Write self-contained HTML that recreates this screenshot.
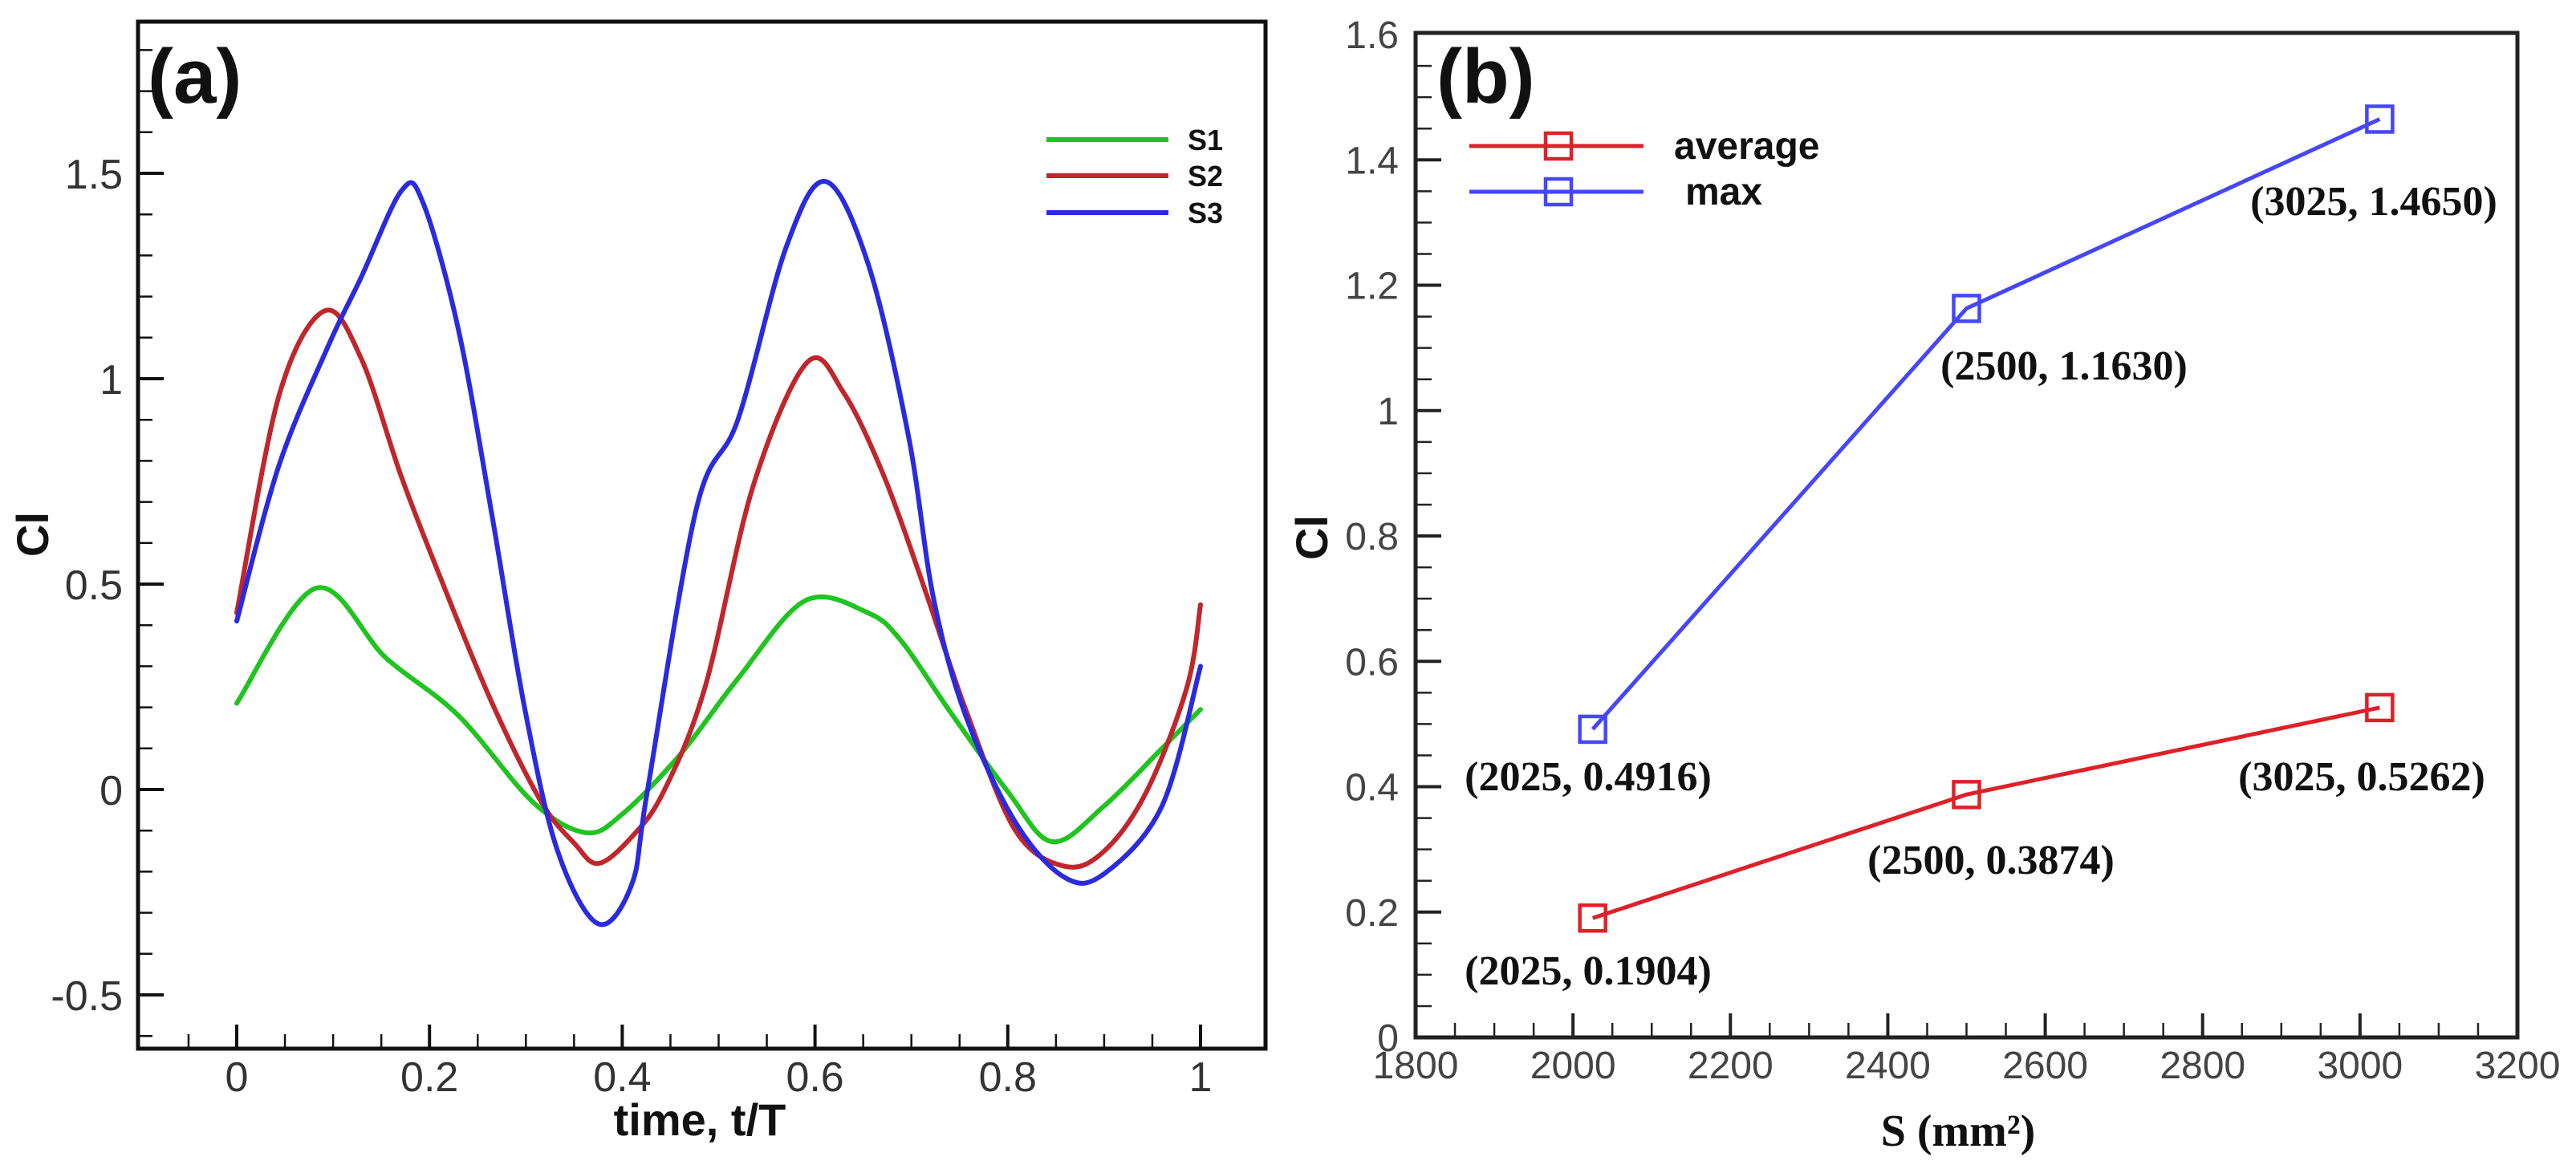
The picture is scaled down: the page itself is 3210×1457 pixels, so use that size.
<!DOCTYPE html>
<html><head><meta charset="utf-8"><style>
html,body{margin:0;padding:0;background:#fff;}
svg{display:block;}
</style></head><body>
<svg id="fig" width="3210" height="1457" viewBox="0 0 3210 1457" xmlns="http://www.w3.org/2000/svg">
<g id="pa"></g>
<g id="pb"></g>
</svg>
<script>
// ---------- Panel (a) data ----------
const s1T = [0,0.082,0.155,0.23,0.307,0.362,0.4,0.46,0.52,0.59,0.655,0.69,0.74,0.8,0.846,0.9,0.96,1];
const s1V = [0.21,0.49,0.32,0.18,-0.03,-0.105,-0.06,0.085,0.27,0.46,0.43,0.36,0.19,-0.005,-0.127,-0.04,0.1,0.195];
const s2T = [0,0.044,0.091,0.129,0.171,0.214,0.265,0.316,0.35,0.375,0.41,0.443,0.486,0.536,0.592,0.63,0.672,0.715,0.757,0.808,0.859,0.9,0.944,0.986,1];
const s2V = [0.43,0.96,1.165,1.05,0.76,0.5,0.21,-0.03,-0.13,-0.18,-0.115,-0.005,0.25,0.74,1.04,0.965,0.76,0.48,0.19,-0.1,-0.187,-0.15,-0.005,0.25,0.45];
const s3T = [0,0.044,0.095,0.129,0.171,0.193,0.23,0.265,0.299,0.333,0.375,0.41,0.426,0.477,0.52,0.57,0.611,0.655,0.697,0.723,0.757,0.808,0.859,0.9,0.96,1];
const s3V = [0.41,0.79,1.08,1.246,1.458,1.43,1.12,0.665,0.195,-0.15,-0.327,-0.23,-0.005,0.685,0.9,1.32,1.48,1.28,0.86,0.465,0.175,-0.08,-0.214,-0.205,-0.04,0.30];
const aXTicks = [0,0.2,0.4,0.6,0.8,1];
const aXTickLabels = ["0","0.2","0.4","0.6","0.8","1"];
const aYTicks = [-0.5,0,0.5,1,1.5];
const aYTickLabels = ["-0.5","0","0.5","1","1.5"];
const aSeriesNames = ["S1","S2","S3"];

// ---------- Panel (b) data ----------
const bX = [2025,2500,3025];
const avgV = [0.1904,0.3874,0.5262];
const maxV = [0.4916,1.1630,1.4650];
const avgLabels = ["(2025, 0.1904)","(2500, 0.3874)","(3025, 0.5262)"];
const maxLabels = ["(2025, 0.4916)","(2500, 1.1630)","(3025, 1.4650)"];
const bXTicks = [1800,2000,2200,2400,2600,2800,3000,3200];
const bXTickLabels = ["1800","2000","2200","2400","2600","2800","3000","3200"];
const bYTicks = [0,0.2,0.4,0.6,0.8,1,1.2,1.4,1.6];
const bYTickLabels = ["0","0.2","0.4","0.6","0.8","1","1.2","1.4","1.6"];
const bSeriesNames = ["average","max"];

const NS="http://www.w3.org/2000/svg";
function mk(parent,tag,attrs,text){const e=document.createElementNS(NS,tag);for(const k in attrs)e.setAttribute(k,attrs[k]);if(text!==undefined)e.textContent=text;parent.appendChild(e);return e;}
function smoothPath(P){
 let d='M'+P[0][0].toFixed(1)+','+P[0][1].toFixed(1);
 for(let i=0;i<P.length-1;i++){
  const p0=P[Math.max(0,i-1)],p1=P[i],p2=P[i+1],p3=P[Math.min(P.length-1,i+2)];
  const c1=[p1[0]+(p2[0]-p0[0])/6,p1[1]+(p2[1]-p0[1])/6];
  const c2=[p2[0]-(p3[0]-p1[0])/6,p2[1]-(p3[1]-p1[1])/6];
  d+=' C'+c1[0].toFixed(1)+','+c1[1].toFixed(1)+' '+c2[0].toFixed(1)+','+c2[1].toFixed(1)+' '+p2[0].toFixed(1)+','+p2[1].toFixed(1);
 }
 return d;
}

// ===== Panel a =====
const pa=document.getElementById('pa');
const aL=172,aR=1577,aT=27,aB=1307;
const ax=t=>295+1201*t;
const ay=v=>984-512*v;
for(let i=-2;i<=20;i++){const t=i*0.05;const x=ax(t);if(x<aL+3||x>aR-3)continue;const maj=(i%4===0);
 const e=mk(pa,'line',{x1:x,y1:aB,x2:x,y2:aB-(maj?30:18),stroke:'#111','stroke-width':maj?4:2.5});
 }
for(let i=-6;i<=18;i++){const v=i*0.1;const y=ay(v);if(y<aT+3||y>aB-3)continue;const maj=(i%5===0);
 const e=mk(pa,'line',{x1:aL,y1:y,x2:aL+(maj?32:18),y2:y,stroke:'#111','stroke-width':maj?4:2.5});
 }
aXTicks.forEach((t,i)=>{const e=mk(pa,'text',{x:ax(t),y:1360,'text-anchor':'middle','font-family':'Liberation Sans, sans-serif','font-size':52,fill:'#333'},aXTickLabels[i]);
 });
aYTicks.forEach((v,i)=>{const e=mk(pa,'text',{x:153,y:ay(v)+19,'text-anchor':'end','font-family':'Liberation Sans, sans-serif','font-size':52,fill:'#333'},aYTickLabels[i]);
 });
const aCols=['#1fc41f','#c0262c','#2a2ae0'];
[[s1T,s1V],[s2T,s2V],[s3T,s3V]].forEach((s,k)=>{
 const P=s[0].map((t,i)=>[ax(t),ay(s[1][i])]);
 const e=mk(pa,'path',{d:smoothPath(P),fill:'none',stroke:aCols[k],'stroke-width':6,'stroke-linejoin':'round','stroke-linecap':'round'});
 });
let fr=mk(pa,'rect',{x:aL,y:aT,width:aR-aL,height:aB-aT,fill:'none',stroke:'#111','stroke-width':5});

[174,219,265].forEach((y,k)=>{
 const g=mk(pa,'g',{});
 mk(g,'line',{x1:1304,y1:y,x2:1456,y2:y,stroke:aCols[k],'stroke-width':6});
 mk(g,'text',{x:1480,y:y+13,'font-family':'Liberation Sans, sans-serif','font-weight':'bold','font-size':36,fill:'#111'},aSeriesNames[k]);});
let t1=mk(pa,'text',{x:184,y:128,'font-family':'Liberation Sans, sans-serif','font-weight':'bold','font-size':96,fill:'#111'},'(a)');

let t2=mk(pa,'text',{x:872,y:1415,'text-anchor':'middle','font-family':'Liberation Sans, sans-serif','font-weight':'bold','font-size':56,fill:'#111'},'time, t/T');

let t3=mk(pa,'text',{x:0,y:0,transform:'translate(60,666) rotate(-90)','text-anchor':'middle','font-family':'Liberation Sans, sans-serif','font-weight':'bold','font-size':56,fill:'#111'},'Cl');


// ===== Panel b =====
const pb=document.getElementById('pb');
const bL=1764,bR=3137,bT=41,bB=1293;
const bx=x=>1764+(x-1800)*(3137-1764)/1400;
const by=v=>1293-v*781.25;
for(let i=0;i<=28;i++){const xv=1800+i*50;const x=bx(xv);if(x<bL+3||x>bR-3)continue;const maj=(i%4===0);
 const e=mk(pb,'line',{x1:x,y1:bB,x2:x,y2:bB-(maj?30:18),stroke:'#222','stroke-width':maj?4:2.5});
 }
for(let i=0;i<=32;i++){const v=i*0.05;const y=by(v);if(y<bT+3||y>bB-3)continue;const maj=(i%4===0);
 const e=mk(pb,'line',{x1:bL,y1:y,x2:bL+(maj?32:20),y2:y,stroke:'#222','stroke-width':maj?4:2.5});
 }
bXTicks.forEach((xv,i)=>{const e=mk(pb,'text',{x:bx(xv),y:1344,'text-anchor':'middle','font-family':'Liberation Sans, sans-serif','font-size':48,fill:'#444'},bXTickLabels[i]);
 });
bYTicks.forEach((v,i)=>{const e=mk(pb,'text',{x:1743,y:by(v)+17,'text-anchor':'end','font-family':'Liberation Sans, sans-serif','font-size':48,fill:'#444'},bYTickLabels[i]);
 });
const bCols=['#e02028','#4646ff'];
[[avgV,avgLabels],[maxV,maxLabels]].forEach((s,k)=>{
 const pts=bX.map((x,i)=>bx(x).toFixed(1)+','+by(s[0][i]).toFixed(1)).join(' ');
 const pl=mk(pb,'polyline',{points:pts,fill:'none',stroke:bCols[k],'stroke-width':5});
 
 bX.forEach((x,i)=>{const m=mk(pb,'rect',{x:bx(x)-16,y:by(s[0][i])-16,width:32,height:32,fill:'#fff','fill-opacity':0,stroke:bCols[k],'stroke-width':4.5});
  });
});
const lblPos=[[[1979,1227],[2481,1089],[2943,985]],[[1979,985],[2572,473],[2958,268]]];
[avgLabels,maxLabels].forEach((arr,k)=>{arr.forEach((s,i)=>{
 const e=mk(pb,'text',{x:lblPos[k][i][0],y:lblPos[k][i][1],'text-anchor':'middle','font-family':'Liberation Serif, serif','font-weight':'bold','font-size':52,fill:'#111'},s);
 });});
fr=mk(pb,'rect',{x:bL,y:bT,width:bR-bL,height:bB-bT,fill:'none',stroke:'#222','stroke-width':5});

[182,239].forEach((y,k)=>{
 const g=mk(pb,'g',{});
 mk(g,'line',{x1:1831,y1:y,x2:2048,y2:y,stroke:bCols[k],'stroke-width':5});
 mk(g,'rect',{x:1926,y:y-16,width:32,height:32,fill:'none',stroke:bCols[k],'stroke-width':4.5});
 mk(g,'text',{x:k?2100:2086,y:y+16,'font-family':'Liberation Sans, sans-serif','font-weight':'bold','font-size':48,fill:'#111'},bSeriesNames[k]);});
let u1=mk(pb,'text',{x:1790,y:128,'font-family':'Liberation Sans, sans-serif','font-weight':'bold','font-size':96,fill:'#111'},'(b)');

let u2=mk(pb,'text',{x:2440,y:1428,'text-anchor':'middle','font-family':'Liberation Serif, serif','font-weight':'bold','font-size':56,fill:'#111'},'S  (mm²)');

let u3=mk(pb,'text',{x:0,y:0,transform:'translate(1654,670) rotate(-90)','text-anchor':'middle','font-family':'Liberation Sans, sans-serif','font-weight':'bold','font-size':56,fill:'#111'},'Cl');

</script>
</body></html>
